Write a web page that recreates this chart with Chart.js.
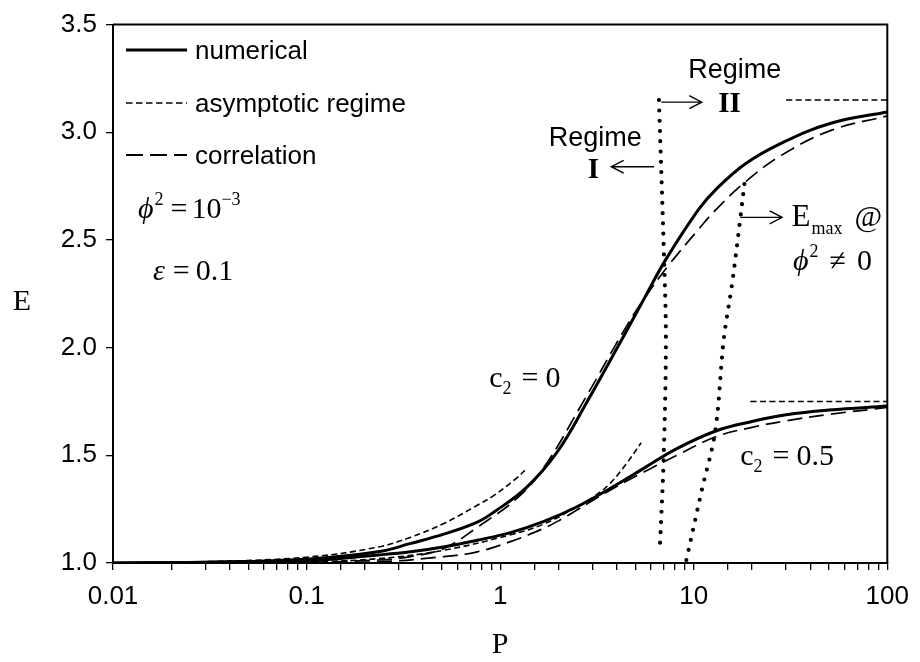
<!DOCTYPE html>
<html>
<head>
<meta charset="utf-8">
<script src="https://cdn.jsdelivr.net/npm/chart.js@4.4.1/dist/chart.umd.min.js"></script>
<style>
html,body{margin:0;padding:0;background:#fff;}
#c{display:block;}
</style>
</head>
<body>
<canvas id="c" width="920" height="662"></canvas>
<script>
// ---- axis ticks ----
const xTickValues = [0.01, 0.1, 1, 10, 100];
const xTickLabels = ['0.01', '0.1', '1', '10', '100'];
const yTickValues = [1.0, 1.5, 2.0, 2.5, 3.0, 3.5];

// ---- c2 = 0 ----
const pNumC0 = [0.01, 0.03, 0.1, 0.234, 0.345, 0.516, 0.762, 0.93, 1.37, 1.96, 2.79, 4.48, 5.68, 7.18, 10.6, 13.0, 18.5, 28.6, 51.6, 100];
const eNumC0 = [1.0, 1.004, 1.018, 1.052, 1.091, 1.135, 1.19, 1.237, 1.351, 1.512, 1.743, 2.075, 2.245, 2.41, 2.642, 2.734, 2.854, 2.951, 3.043, 3.094];
const pCorC0 = [0.01, 0.1, 0.234, 0.345, 0.516, 0.762, 1.22, 1.68, 2.7, 4.5, 5.87, 7.44, 10.6, 13.0, 18.5, 28.6, 51.6, 100];
const eCorC0 = [1.0, 1.003, 1.014, 1.03, 1.069, 1.166, 1.30, 1.443, 1.752, 2.10, 2.259, 2.384, 2.55, 2.64, 2.77, 2.895, 3.01, 3.076];
const pAsyC0 = [0.01, 0.03, 0.1, 0.234, 0.345, 0.516, 0.762, 0.93, 1.2, 1.37];
const eAsyC0 = [1.0, 1.006, 1.027, 1.074, 1.12, 1.185, 1.268, 1.314, 1.39, 1.438];
const pAsyLimC0 = [30, 100];
const eAsyLimC0 = [3.15, 3.15];

// ---- c2 = 0.5 ----
const pNumC5 = [0.01, 0.1, 0.234, 0.345, 0.516, 0.762, 1.12, 1.67, 2.48, 3.68, 5.46, 8.09, 13, 20, 30, 50, 100];
const eNumC5 = [1.0, 1.01, 1.037, 1.052, 1.075, 1.106, 1.140, 1.192, 1.26, 1.345, 1.437, 1.529, 1.613, 1.657, 1.688, 1.71, 1.729];
const pCorC5 = [0.01, 0.1, 0.234, 0.516, 0.762, 1.12, 1.67, 2.04, 2.48, 3.68, 5.46, 8.09, 13, 20, 30, 50, 100];
const eCorC5 = [1.0, 1.001, 1.005, 1.03, 1.052, 1.098, 1.16, 1.20, 1.245, 1.337, 1.42, 1.498, 1.586, 1.63, 1.66, 1.69, 1.722];
const pAsyC5 = [0.01, 0.1, 0.234, 0.516, 1.12, 1.67, 2.48, 3.02, 3.68, 4.48, 5.35];
const eAsyC5 = [1.0, 1.006, 1.02, 1.06, 1.13, 1.18, 1.26, 1.306, 1.368, 1.46, 1.558];
const pAsyLimC5 = [19.6, 100];
const eAsyLimC5 = [1.75, 1.75];

// ---- regime boundaries (dotted) ----
const pRegime = [6.61, 7.01, 7.18, 7.0, 6.7];
const eRegime = [3.15, 2.44, 2.04, 1.5, 1.09];
const pEmax = [9.16, 11.0, 12.9, 14.3, 15.8, 17.4, 18.5];
const eEmax = [1.014, 1.337, 1.61, 2.04, 2.30, 2.60, 2.80];

function pts(xs, ys) { return xs.map((x, i) => ({ x: x, y: ys[i] })); }

const SOLID = { borderColor: '#000', borderWidth: 3, borderDash: [], pointRadius: 0, showLine: true, fill: false, tension: 0.4 };
const CORR = { borderColor: '#000', borderWidth: 1.7, borderDash: [15, 7], pointRadius: 0, showLine: true, fill: false, tension: 0.4 };
const ASY = { borderColor: '#000', borderWidth: 1.6, borderDash: [6, 3.5], pointRadius: 0, showLine: true, fill: false, tension: 0.4 };
const DOT = { borderColor: '#000', borderWidth: 4.2, borderDash: [0, 10.3], borderCapStyle: 'round', pointRadius: 0, showLine: true, fill: false, tension: 0.35 };

const datasets = [
  Object.assign({ label: 'numerical c2=0', data: pts(pNumC0, eNumC0) }, SOLID),
  Object.assign({ label: 'correlation c2=0', data: pts(pCorC0, eCorC0) }, CORR),
  Object.assign({ label: 'asymptotic c2=0', data: pts(pAsyC0, eAsyC0) }, ASY),
  Object.assign({ label: 'asymptotic limit c2=0', data: pts(pAsyLimC0, eAsyLimC0) }, ASY),
  Object.assign({ label: 'numerical c2=0.5', data: pts(pNumC5, eNumC5) }, SOLID),
  Object.assign({ label: 'correlation c2=0.5', data: pts(pCorC5, eCorC5) }, CORR),
  Object.assign({ label: 'asymptotic c2=0.5', data: pts(pAsyC5, eAsyC5) }, ASY),
  Object.assign({ label: 'asymptotic limit c2=0.5', data: pts(pAsyLimC5, eAsyLimC5) }, ASY),
  Object.assign({ label: 'regime boundary', data: pts(pRegime, eRegime) }, DOT),
  Object.assign({ label: 'Emax', data: pts(pEmax, eEmax) }, DOT)
];

const SANS = '"Liberation Sans", Arial, sans-serif';
const SERIF = '"Liberation Serif", "Times New Roman", "DejaVu Serif", serif';
const PHI = '\u03D5';

function drawRuns(ctx, x, y, runs) {
  ctx.textAlign = 'left';
  ctx.textBaseline = 'alphabetic';
  let cx = x;
  runs.forEach(r => {
    ctx.font = r.f;
    ctx.fillText(r.t, cx + (r.dx || 0), y + (r.dy || 0));
    cx += ctx.measureText(r.t).width + (r.dx || 0) + (r.gap || 0);
  });
}

function arrow(ctx, x1, y1, x2, y2) {
  ctx.save();
  ctx.strokeStyle = '#000';
  ctx.lineWidth = 1.4;
  ctx.setLineDash([]);
  ctx.beginPath();
  ctx.moveTo(x1, y1); ctx.lineTo(x2, y2);
  const a = Math.atan2(y2 - y1, x2 - x1);
  const L = 14, W = 0.48;
  ctx.moveTo(x2 - L * Math.cos(a - W), y2 - L * Math.sin(a - W));
  ctx.lineTo(x2, y2);
  ctx.lineTo(x2 - L * Math.cos(a + W), y2 - L * Math.sin(a + W));
  ctx.stroke();
  ctx.restore();
}

const decor = {
  id: 'decor',
  afterDraw(chart) {
    const ctx = chart.ctx;
    const ca = chart.chartArea;
    const xs = chart.scales.x, ys = chart.scales.y;
    const X = v => xs.getPixelForValue(v), Y = v => ys.getPixelForValue(v);
    ctx.save();
    ctx.fillStyle = '#000';
    ctx.strokeStyle = '#000';
    // frame top & right
    ctx.lineWidth = 2;
    ctx.beginPath();
    ctx.moveTo(ca.left, ca.top); ctx.lineTo(ca.right, ca.top); ctx.lineTo(ca.right, ca.bottom);
    ctx.stroke();

    // legend
    const lx1 = ca.left + 13, lx2 = ca.left + 74, tx = ca.left + 82;
    ctx.lineCap = 'butt';
    ctx.lineWidth = 3; ctx.setLineDash([]);
    ctx.beginPath(); ctx.moveTo(lx1, 50); ctx.lineTo(lx2, 50); ctx.stroke();
    ctx.lineWidth = 1.6; ctx.setLineDash([6.5, 3.5]);
    ctx.beginPath(); ctx.moveTo(lx1, 103); ctx.lineTo(lx2, 103); ctx.stroke();
    ctx.lineWidth = 1.8; ctx.setLineDash([17, 7]);
    ctx.beginPath(); ctx.moveTo(lx1, 155); ctx.lineTo(lx2, 155); ctx.stroke();
    ctx.setLineDash([]);
    ctx.font = '26px ' + SANS;
    ctx.textAlign = 'left'; ctx.textBaseline = 'alphabetic';
    ctx.fillText('numerical', tx, 59);
    ctx.fillText('asymptotic regime', tx, 112);
    ctx.fillText('correlation', tx, 164);

    const F = '30px ' + SERIF, FI = 'italic 30px ' + SERIF, FS = '18px ' + SERIF;
    // phi^2 = 10^-3
    drawRuns(ctx, 138, 218, [
      { t: PHI, f: FI },
      { t: '2', f: FS, dy: -13, dx: 1 },
      { t: '=', f: F, dx: 7 },
      { t: '10', f: F, dx: 4 },
      { t: '\u22123', f: FS, dy: -13 }
    ]);
    // epsilon = 0.1
    drawRuns(ctx, 153, 280, [
      { t: '\u03B5', f: FI },
      { t: '=', f: F, dx: 8 },
      { t: '0.1', f: F, dx: 6 }
    ]);

    // c2 labels
    drawRuns(ctx, X(0.878), Y(1.867) + 11, [
      { t: 'c', f: F },
      { t: '2', f: FS, dy: 7 },
      { t: '=', f: F, dx: 10 },
      { t: '0', f: F, dx: 7 }
    ]);
    drawRuns(ctx, X(17.4), Y(1.507) + 11, [
      { t: 'c', f: F },
      { t: '2', f: FS, dy: 7 },
      { t: '=', f: F, dx: 10 },
      { t: '0.5', f: F, dx: 7 }
    ]);

    // Regime I
    ctx.font = '27px ' + SANS;
    ctx.textAlign = 'center';
    ctx.fillText('Regime', X(3.1), Y(2.98) + 9);
    ctx.font = 'bold 29px ' + SERIF;
    ctx.fillText('I', X(3.03), Y(2.84) + 11);
    arrow(ctx, X(6.24), Y(2.84), X(3.75), Y(2.84));
    // Regime II
    ctx.font = '27px ' + SANS;
    ctx.fillText('Regime', X(16.3), Y(3.29) + 8);
    ctx.font = 'bold 29px ' + SERIF;
    ctx.fillText('II', X(15.3), Y(3.135) + 9);
    arrow(ctx, X(6.8), Y(3.14), X(11.0), Y(3.14));
    // Emax @
    arrow(ctx, X(17.4), Y(2.605), X(28.6), Y(2.605));
    drawRuns(ctx, X(32.0), Y(2.605) + 9, [
      { t: 'E', f: '31px ' + SERIF },
      { t: 'max', f: FS, dy: 8, dx: 1 },
      { t: '@', f: F, dx: 12 }
    ]);
    drawRuns(ctx, X(32.6), Y(2.40) + 9, [
      { t: PHI, f: FI },
      { t: '2', f: FS, dy: -13, dx: 1 },
      { t: '\u2260', f: F, dx: 11 },
      { t: '0', f: F, dx: 11 }
    ]);

    // axis titles
    ctx.font = '30px ' + SERIF;
    ctx.textAlign = 'center'; ctx.textBaseline = 'middle';
    ctx.fillText('E', 22, (ca.top + ca.bottom) / 2 + 8);
    ctx.fillText('P', (ca.left + ca.right) / 2, 645);
    ctx.restore();
  }
};

new Chart(document.getElementById('c'), {
  type: 'scatter',
  data: { datasets: datasets },
  options: {
    responsive: false,
    animation: false,
    devicePixelRatio: 1,
    layout: { padding: { top: 21, right: 27, left: 0, bottom: 0 } },
    plugins: { legend: { display: false }, tooltip: { enabled: false } },
    scales: {
      x: {
        type: 'logarithmic',
        min: 0.01, max: 100,
        position: 'bottom',
        afterFit: s => { s.height = 99; },
        border: { display: true, color: '#000', width: 2 },
        grid: { drawOnChartArea: false, drawTicks: true, tickLength: 7, color: '#000', lineWidth: 1.3 },
        ticks: {
          autoSkip: false, maxRotation: 0, minRotation: 0, padding: 11,
          color: '#000', font: { family: SANS, size: 26 },
          callback: (v) => {
            const i = xTickValues.findIndex(t => Math.abs(t - v) / t < 1e-6);
            return i >= 0 ? xTickLabels[i] : '';
          }
        }
      },
      y: {
        type: 'linear',
        min: 1.0, max: 3.5,
        afterFit: s => { s.width = 113; },
        afterBuildTicks: s => { s.ticks = yTickValues.map(v => ({ value: v })); },
        border: { display: true, color: '#000', width: 2 },
        grid: { drawOnChartArea: false, drawTicks: true, tickLength: 7, color: '#000', lineWidth: 1.3 },
        ticks: {
          padding: 9, color: '#000', font: { family: SANS, size: 26 },
          callback: v => Number(v).toFixed(1)
        }
      }
    }
  },
  plugins: [decor]
});
</script>
</body>
</html>
